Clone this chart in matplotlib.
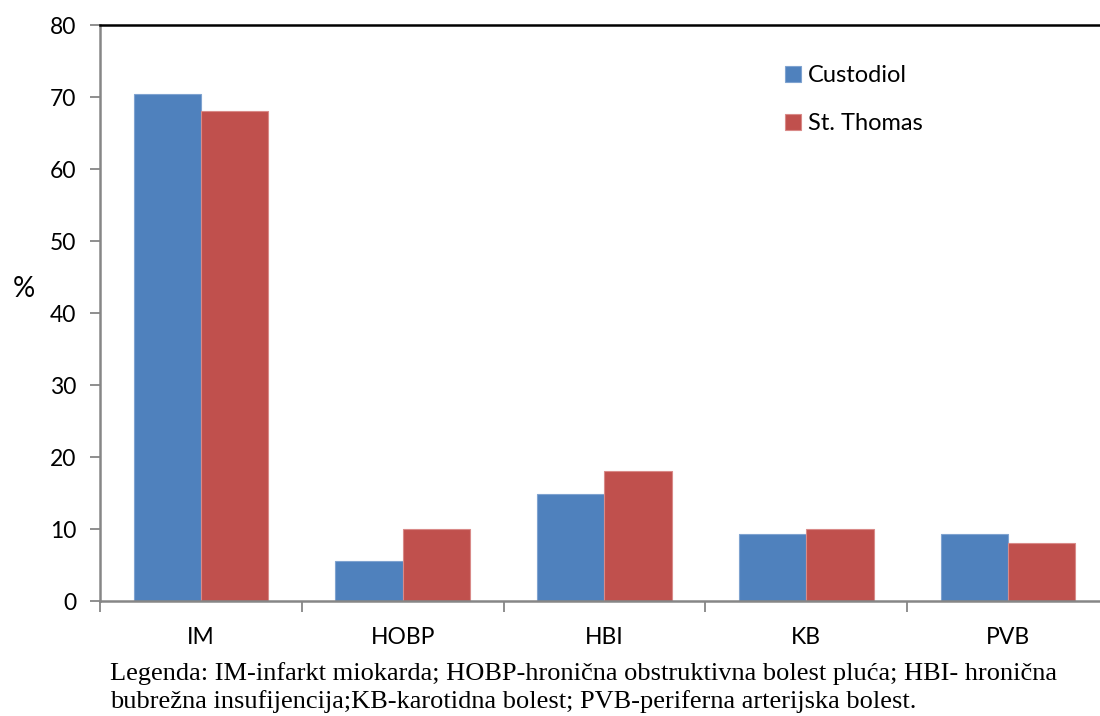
import matplotlib
matplotlib.use("Agg")
import matplotlib.pyplot as plt
import numpy as np

categories = ["IM", "HOBP", "HBI", "KB", "PVB"]
custodiol = [70.4, 5.6, 14.8, 9.3, 9.3]
st_thomas = [68.0, 10.0, 18.0, 10.0, 8.0]
series_names = ["Custodiol", "St. Thomas"]
yticks = [0, 10, 20, 30, 40, 50, 60, 70, 80]
caption_lines = ["Legenda: IM-infarkt miokarda; HOBP-hronična obstruktivna bolest pluća; HBI- hronična",
                 "bubrežna insufijencija;KB-karotidna bolest; PVB-periferna arterijska bolest."]

blue = "#4F81BD"
red = "#C0504D"
gray = "#868686"
tickfont = "Lato"

fig = plt.figure(figsize=(11, 7.16), dpi=100)
ax = fig.add_axes([100/1100, 1 - 601/716, 1009/1100, (601 - 25)/716])

x = np.arange(len(categories))
w = 0.3333
ax.bar(x - w/2, custodiol, w, color=blue, edgecolor="#7FA3D0", linewidth=0.8, label=series_names[0])
ax.bar(x + w/2, st_thomas, w, color=red, edgecolor="#D98A88", linewidth=0.8, label=series_names[1])

ax.set_xlim(-0.5, len(categories) - 0.5)
ax.set_ylim(0, 80)
ax.set_yticks(yticks)
ax.set_yticklabels([str(t) for t in yticks], fontsize=16.5, family=tickfont)
ax.set_xticks(x)
ax.set_xticklabels(categories, fontsize=16.5, family=tickfont)
ax.tick_params(axis="x", length=0, pad=19)
ax.tick_params(axis="y", length=7, color=gray, width=1.3, pad=10)
# category boundary ticks
ax.set_xticks(np.arange(-0.5, len(categories) + 0.5, 1), minor=True)
ax.tick_params(axis="x", which="minor", length=8, color=gray, width=1.3, direction="out")

for s in ["left", "bottom"]:
    ax.spines[s].set_color(gray)
    ax.spines[s].set_linewidth(1.8)
ax.spines["top"].set_color("black")
ax.spines["top"].set_linewidth(1.8)
ax.spines["right"].set_visible(False)

ax.set_ylabel("%", rotation=0, fontsize=20, family=tickfont, va="center")
ax.yaxis.set_label_coords(-0.075, 0.542)

leg = ax.legend(loc="upper left", bbox_to_anchor=(0.658, 0.967), frameon=False,
                prop={"family": tickfont, "size": 17}, handlelength=0.65, handleheight=0.65,
                handletextpad=0.3, labelspacing=1.15)

fig.text(110/1100, 1 - 680/716, caption_lines[0], ha="left", va="baseline", fontsize=19,
         family="Liberation Serif")
fig.text(110/1100, 1 - 708/716, caption_lines[1], ha="left", va="baseline", fontsize=19,
         family="Liberation Serif")

fig.savefig("out.png", dpi=100)
